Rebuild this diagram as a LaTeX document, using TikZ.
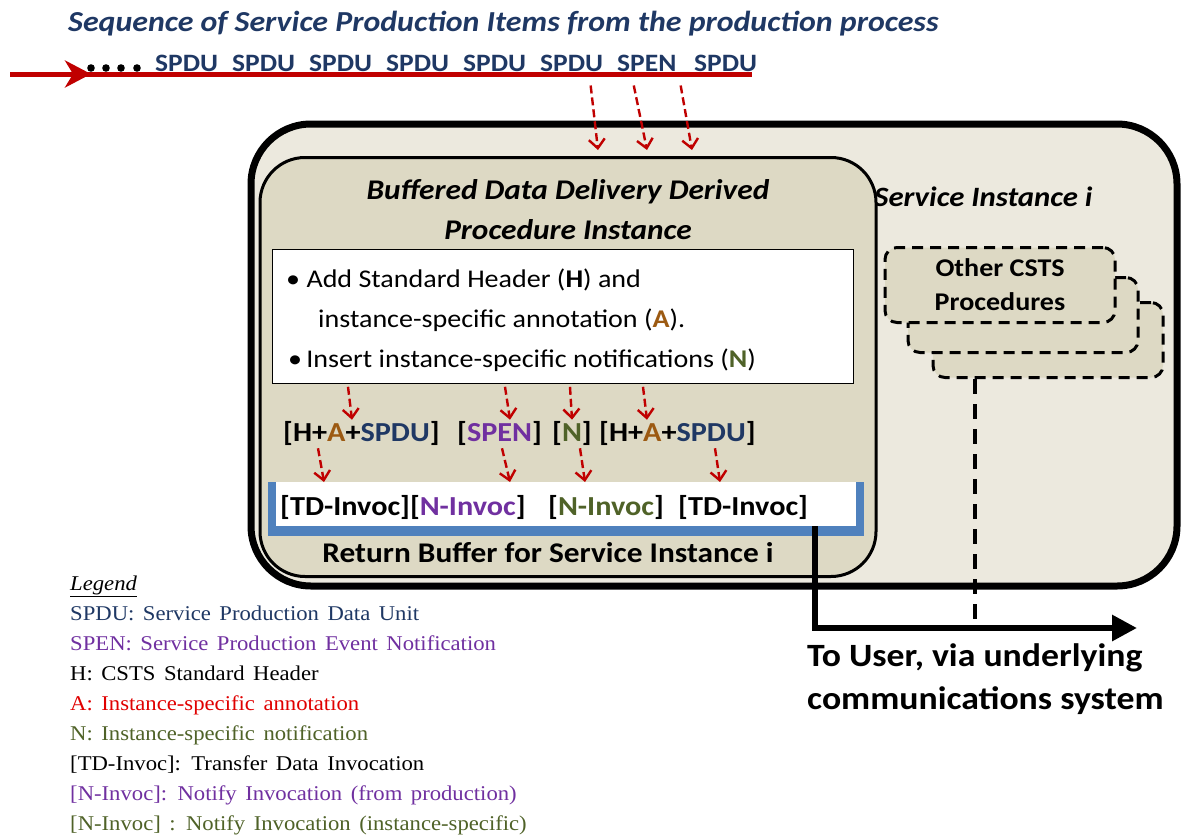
\documentclass[tikz,border=0pt]{standalone}
\usepackage{fontspec}
\setmainfont{Carlito}[FakeStretch=1.1]
\newfontfamily\legendfont{Liberation Serif}[FakeStretch=1.08]
\usetikzlibrary{arrows.meta,calc}

\definecolor{spdublue}{HTML}{1F3864}
\definecolor{spenpurple}{HTML}{7030A0}
\definecolor{annobrown}{HTML}{9C5A12}
\definecolor{notegreen}{HTML}{4F6228}
\definecolor{flowred}{HTML}{C00000}
\definecolor{legendred}{HTML}{E00000}
\definecolor{outerfill}{HTML}{ECE9DE}
\definecolor{innerfill}{HTML}{DDD9C4}
\definecolor{bufblue}{HTML}{4F81BD}

\newcommand\legendspacing{\spaceskip=8.5pt\relax}

\tikzset{
  feed/.style={flowred, line width=2.4pt, dash pattern=on 8pt off 4pt,
    -{Straight Barb[length=9pt,width=16pt,line width=2.4pt]}},
  item/.style={anchor=west, inner sep=0pt, text=spdublue,
    font=\bfseries\fontsize{25}{25}\selectfont},
  unit/.style={anchor=west, inner sep=0pt, font=\bfseries\fontsize{27.5}{27.5}\selectfont},
  steptext/.style={anchor=west, inner sep=0pt, font=\fontsize{25.5}{25.5}\selectfont},
  otherproc/.style={draw, dash pattern=on 11pt off 7pt, line width=3pt,
    rounded corners=12pt, fill=innerfill, minimum width=230pt, minimum height=75pt}
}

\begin{document}
\begin{tikzpicture}[x=1pt,y=-1pt]
  \useasboundingbox (0,0) rectangle (1183,835);

  % incoming stream
  \node[anchor=base west, inner sep=0pt, text=spdublue,
    font=\bfseries\itshape\fontsize{29}{29}\selectfont] (title) at (68,31)
    {Sequence of Service Production Items from the production process};
  \draw[flowred, line width=5pt] (10,74) -- (752,74);
  \draw[flowred, line width=5pt, -{Stealth[length=26pt,width=27pt,inset=8pt]}] (10,74) -- (91,74);
  \foreach \x in {91,106,121,137}
    \fill (\x,68) circle (3.8);
  \foreach \lab [count=\i] in {SPDU,SPDU,SPDU,SPDU,SPDU,SPDU,SPEN,SPDU}
    \node[item] (s\i) at (155+77*\i-77,63) {\lab};

  % service instance
  \node[draw, line width=7pt, fill=outerfill, rounded corners=60pt,
    minimum width=926pt, minimum height=462pt] (inst) at (714,355) {};
  \node[anchor=west, inner sep=0pt, font=\bfseries\itshape\fontsize{28}{28}\selectfont]
    (insttitle) at (874,197) {Service Instance i};

  % derived procedure
  \node[draw, line width=3pt, fill=innerfill, rounded corners=45pt,
    minimum width=616pt, minimum height=419pt] (proc) at (568,367) {};
  \node[align=center, inner sep=0pt, font=\bfseries\itshape\fontsize{28.5}{40}\selectfont]
    (proctitle) at (568,210) {Buffered Data Delivery Derived\\Procedure Instance};

  \draw[feed] ($(s6.south)+(19,14)$) -- ($(proc.north)+(30,-6)$);
  \draw[feed] ($(s7.south)+(-13,14)$) -- ($(proc.north)+(79,-6)$);
  \draw[feed] ($(s8.south)+(-45,14)$) -- ($(proc.north)+(124,-6)$);

  \node[draw, line width=0.8pt, fill=white, anchor=north west,
    minimum width=581pt, minimum height=134pt] (steps) at (272,249) {};
  \node[steptext] (step1) at (286,280)
    {\textbullet\ Add Standard Header (\textbf{H}) and};
  \node[steptext] (step1b) at (318,320)
    {instance-specific annotation (\textcolor{annobrown}{\textbf{A}}).};
  \node[steptext] (step2) at (288,360)
    {\textbullet\,Insert instance-specific notifications (\textcolor{notegreen}{\textbf{N}})};

  % annotated units
  \node[unit] (u1) at (283,433)
    {[H+\textcolor{annobrown}{A}+\textcolor{spdublue}{SPDU}]};
  \node[unit] (u2) at (457,433) {[\textcolor{spenpurple}{SPEN}]};
  \node[unit] (u3) at (552,433) {[\textcolor{notegreen}{N}]};
  \node[unit] (u4) at (599,433)
    {[H+\textcolor{annobrown}{A}+\textcolor{spdublue}{SPDU}]};

  \draw[feed] ($(steps.south west)+(76,3)$) -- ($(u1.north west)+(69,-1)$);
  \draw[feed] ($(steps.south west)+(233,3)$) -- ($(u2.north west)+(53,-1)$);
  \draw[feed] ($(steps.south west)+(298,3)$) -- ($(u3.north west)+(20,-1)$);
  \draw[feed] ($(steps.south west)+(371,3)$) -- ($(u4.north west)+(48,-1)$);

  % return buffer
  \fill[bufblue] (268,482) rectangle (864,536);
  \node[fill=white, anchor=north west, inner sep=0pt,
    minimum width=580pt, minimum height=44pt] (retbuf) at (276,482) {};
  \node[unit] (b1) at (280,507)
    {[TD-Invoc][\textcolor{spenpurple}{N-Invoc}]};
  \node[unit] (b2) at (548,507) {[\textcolor{notegreen}{N-Invoc}]};
  \node[unit] (b3) at (678,507) {[TD-Invoc]};
  \node[inner sep=0pt, font=\bfseries\fontsize{28.5}{28.5}\selectfont]
    (retlabel) at (548,553) {Return Buffer for Service Instance i};

  \draw[feed] ($(u1.south west)+(35,3)$) -- ($(retbuf.north west)+(48,0)$);
  \draw[feed] ($(u2.south west)+(45,3)$) -- ($(retbuf.north west)+(234,0)$);
  \draw[feed] ($(u3.south west)+(28,3)$) -- ($(retbuf.north west)+(309,0)$);
  \draw[feed] ($(u4.south west)+(116,3)$) -- ($(retbuf.north west)+(444,0)$);

  % other procedures
  \node[otherproc] (other3) at (1048,340) {};
  \node[otherproc] (other2) at (1023,315) {};
  \node[otherproc, align=center, font=\bfseries\fontsize{25.5}{34}\selectfont]
    (other1) at (1000,285) {Other CSTS\\Procedures};

  % to user
  \coordinate (join) at (975,628);
  \coordinate (touser) at (1137,628);
  \draw[line width=3.5pt, dash pattern=on 15pt off 10pt]
    ([xshift=-73pt]other3.south) -- (join);
  \draw[line width=6pt, -{Triangle[length=25pt,width=25pt]}]
    ([xshift=-41pt]retbuf.south east) |- (touser);
  \node[anchor=north west, align=left, inner sep=0pt,
    font=\bfseries\fontsize{32.5}{43}\selectfont] (usertext) at (807,643)
    {To User, via underlying\\communications system};

  % legend
  \node[anchor=north west, align=left, inner sep=0pt,
    font=\legendfont\fontsize{21}{30}\selectfont\legendspacing] (legend) at (70,576)
    {\underline{\textit{Legend}}\\
     \textcolor{spdublue}{SPDU: Service Production Data Unit}\\
     \textcolor{spenpurple}{SPEN: Service Production Event Notification}\\
     H: CSTS Standard Header\\
     \textcolor{legendred}{A: Instance-specific annotation}\\
     \textcolor{notegreen}{N: Instance-specific notification}\\
     {}[TD-Invoc]: Transfer Data Invocation\\
     \textcolor{spenpurple}{[N-Invoc]: Notify Invocation (from production)}\\
     \textcolor{notegreen}{[N-Invoc] : Notify Invocation (instance-specific)}};
\end{tikzpicture}
\end{document}
